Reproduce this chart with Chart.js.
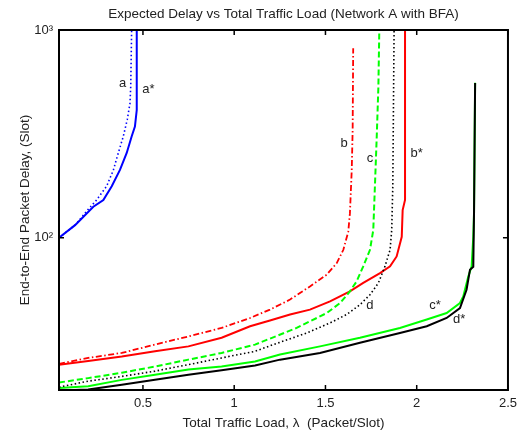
<!DOCTYPE html>
<html>
<head>
<meta charset="utf-8">
<script src="https://cdn.jsdelivr.net/npm/chart.js@4.4.1/dist/chart.umd.min.js"></script>
<style>
  body { margin: 0; background: #fff; }
  #wrap { width: 523px; height: 433px; }
</style>
</head>
<body>
<div id="wrap"><canvas id="delayChart" width="523" height="433"></canvas></div>
<script>
// curves: x = total traffic load, y = delay (slots)
const aX = [0.04, 0.128, 0.2, 0.246, 0.301, 0.338, 0.365, 0.392, 0.414, 0.429, 0.433, 0.438];
const aY = [100, 115, 137, 152, 177, 212, 256, 307, 370, 444, 534, 1000];

const aStarX = [0.04, 0.128, 0.228, 0.283, 0.329, 0.374, 0.411, 0.438, 0.456, 0.466, 0.466];
const aStarY = [100, 115, 141, 152, 177, 212, 256, 307, 343, 412, 1000];

const bX = [0.04, 0.2, 0.384, 0.566, 0.749, 0.931, 1.087, 1.196, 1.306, 1.415, 1.507, 1.562, 1.598, 1.625, 1.634, 1.644, 1.649, 1.652];
const bY = [24.7, 26.4, 27.9, 30.6, 33.5, 36.8, 41.1, 45.1, 50.4, 58.3, 66.4, 75.5, 87.5, 107, 131, 212, 330, 816];

const bStarX = [0.04, 0.2, 0.384, 0.566, 0.749, 0.931, 1.087, 1.196, 1.306, 1.415, 1.525, 1.634, 1.707, 1.799, 1.854, 1.89, 1.918, 1.923, 1.936, 1.936];
const bStarY = [24.5, 25.5, 26.8, 28.4, 30.0, 33.0, 37.5, 40.0, 42.7, 45.1, 49.4, 55.2, 60.6, 67.6, 72.8, 81.3, 101, 136, 152, 1000];

const cX = [0.04, 0.2, 0.384, 0.566, 0.749, 0.931, 1.114, 1.342, 1.415, 1.507, 1.58, 1.634, 1.671, 1.707, 1.744, 1.762, 1.771, 1.781, 1.79, 1.795];
const cY = [20.1, 21.1, 22.4, 24.0, 25.9, 27.9, 30.6, 36.8, 39.6, 43.4, 48.5, 55.2, 61.7, 72.8, 87.5, 109, 177, 307, 533, 1000];

const cStarX = [0.04, 0.2, 0.384, 0.566, 0.749, 0.931, 1.114, 1.251, 1.47, 1.689, 1.908, 2.055, 2.164, 2.237, 2.255, 2.283, 2.301, 2.31, 2.314, 2.32];
const cStarY = [18.9, 19.3, 20.7, 21.9, 23.2, 24.0, 25.4, 27.4, 30.0, 33.0, 36.8, 40.4, 43.4, 48.5, 52.2, 65.2, 72.8, 101, 131, 558];

const dX = [0.04, 0.2, 0.384, 0.566, 0.749, 0.931, 1.114, 1.214, 1.397, 1.525, 1.616, 1.689, 1.744, 1.79, 1.826, 1.854, 1.863, 1.869, 1.872, 1.876];
const dY = [19.1, 20.4, 21.5, 22.8, 24.5, 26.4, 28.4, 30.6, 34.8, 38.9, 42.7, 47.6, 53.2, 60.6, 72.8, 87.5, 109, 177, 369, 1000];

const dStarX = [0.04, 0.2, 0.384, 0.566, 0.749, 0.931, 1.114, 1.251, 1.47, 1.689, 1.908, 2.055, 2.164, 2.237, 2.273, 2.292, 2.31, 2.314, 2.32];
const dStarY = [18.4, 18.6, 19.6, 20.7, 21.9, 23.0, 24.3, 25.9, 27.9, 31.2, 34.8, 37.5, 41.1, 45.9, 56.2, 70.2, 72.5, 131, 556];

const xTicks = [0.5, 1, 1.5, 2, 2.5];
const yTicks = [100, 1000];
const yTickText = { 100: '10\u00B2', 1000: '10\u00B3' };

// curve tags placed on the plot (data coordinates)
const tagText = ['a', 'a*', 'b', 'c', 'b*', 'd', 'c*', 'd*'];
const tagX = [0.389, 0.53, 1.602, 1.744, 2.0, 1.744, 2.10, 2.232];
const tagY = [554, 515, 285, 242, 255, 47.1, 47.1, 40.6];

const chartTitle = 'Expected Delay vs Total Traffic Load (Network A with BFA)';
const FONT = "'Liberation Sans', Arial, sans-serif";

function pts(xs, ys) {
    return xs.map((x, i) => ({ x: x, y: ys[i] }));
}

// drawing order follows the original: later curves on top
const series = [
    { xs: aX, ys: aY, color: '#0000ff', width: 1.6, dash: [1.5, 2.5] },
    { xs: aStarX, ys: aStarY, color: '#0000ff', width: 2, dash: [] },
    { xs: bX, ys: bY, color: '#ff0000', width: 1.8, dash: [6, 2.5, 1.5, 2.5] },
    { xs: bStarX, ys: bStarY, color: '#ff0000', width: 2, dash: [] },
    { xs: cX, ys: cY, color: '#00ff00', width: 2, dash: [6, 3] },
    { xs: cStarX, ys: cStarY, color: '#00ff00', width: 2, dash: [] },
    { xs: dX, ys: dY, color: '#000000', width: 1.6, dash: [1.5, 2.5] },
    { xs: dStarX, ys: dStarY, color: '#000000', width: 2, dash: [] }
];

// MATLAB-style box with inward ticks on all four sides
const axisBox = {
    id: 'axisBox',
    afterDatasetsDraw(chart) {
        const { ctx, chartArea: a, scales: { x, y } } = chart;
        ctx.save();
        ctx.strokeStyle = '#000';
        ctx.lineWidth = 2;
        ctx.strokeRect(a.left, a.top, a.right - a.left, a.bottom - a.top);
        ctx.lineWidth = 1.5;
        ctx.beginPath();
        xTicks.forEach(v => {
            const px = x.getPixelForValue(v);
            ctx.moveTo(px, a.bottom); ctx.lineTo(px, a.bottom - 5);
            ctx.moveTo(px, a.top); ctx.lineTo(px, a.top + 5);
        });
        yTicks.forEach(v => {
            const py = y.getPixelForValue(v);
            ctx.moveTo(a.left, py); ctx.lineTo(a.left + 5, py);
            ctx.moveTo(a.right, py); ctx.lineTo(a.right - 5, py);
        });
        ctx.stroke();
        ctx.restore();
    }
};

// curve tags + title centred over the plot box (not the whole canvas)
const curveTags = {
    id: 'curveTags',
    afterDatasetsDraw(chart) {
        const { ctx, chartArea: a, scales: { x, y } } = chart;
        ctx.save();
        ctx.fillStyle = '#222';
        ctx.textAlign = 'center';
        ctx.textBaseline = 'middle';
        ctx.font = '13px ' + FONT;
        tagText.forEach((t, i) => {
            ctx.fillText(t, x.getPixelForValue(tagX[i]), y.getPixelForValue(tagY[i]));
        });
        ctx.font = '13.5px ' + FONT;
        ctx.fillText(chartTitle, (a.left + a.right) / 2, 14);
        ctx.restore();
    }
};

document.addEventListener('DOMContentLoaded', function () {
    const ctx = document.getElementById('delayChart').getContext('2d');
    new Chart(ctx, {
        type: 'line',
        data: {
            datasets: series.map((s, i) => ({
                data: pts(s.xs, s.ys),
                borderColor: s.color,
                borderWidth: s.width,
                borderDash: s.dash,
                pointRadius: 0,
                tension: 0,
                fill: false,
                order: series.length - i
            }))
        },
        options: {
            responsive: false,
            animation: false,
            layout: { padding: { left: 0, right: 15, top: 30, bottom: 0 } },
            plugins: {
                legend: { display: false },
                tooltip: { enabled: false },
                title: { display: false }
            },
            scales: {
                x: {
                    type: 'linear',
                    min: 0.04,
                    max: 2.5,
                    grid: { display: false, drawTicks: false },
                    border: { display: false },
                    afterBuildTicks: s => { s.ticks = xTicks.map(v => ({ value: v })); },
                    afterFit: s => { s.height = 43; },
                    ticks: {
                        color: '#222',
                        font: { family: FONT, size: 13 },
                        padding: 6,
                        maxRotation: 0,
                        callback: v => String(v)
                    },
                    title: {
                        display: true,
                        text: 'Total Traffic Load, \u03BB  (Packet/Slot)',
                        color: '#222',
                        font: { family: FONT, size: 13.5, lineHeight: 1.2 },
                        padding: { top: 0, bottom: 2 }
                    }
                },
                y: {
                    type: 'logarithmic',
                    min: 18.5,
                    max: 1000,
                    grid: { display: false, drawTicks: false },
                    border: { display: false },
                    afterBuildTicks: s => { s.ticks = yTicks.map(v => ({ value: v })); },
                    afterFit: s => { s.width = 59; },
                    ticks: {
                        color: '#222',
                        font: { family: FONT, size: 13 },
                        padding: 6,
                        callback: v => yTickText[v] || ''
                    },
                    title: {
                        display: true,
                        text: 'End-to-End Packet Delay, (Slot)',
                        color: '#222',
                        font: { family: FONT, size: 13.5, lineHeight: 1.2 },
                        padding: { top: 17, bottom: 0 }
                    }
                }
            }
        },
        plugins: [axisBox, curveTags]
    });
});
</script>
</body>
</html>
